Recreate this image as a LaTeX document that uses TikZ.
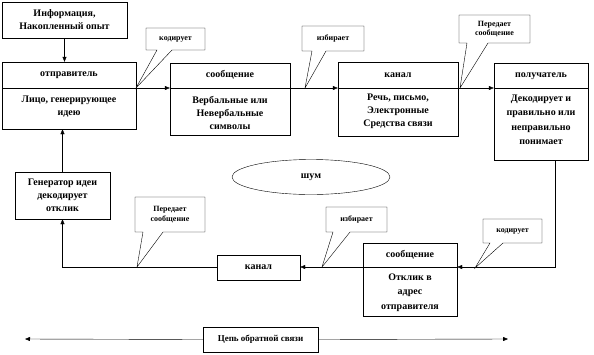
\documentclass[tikz,border=0pt]{standalone}
\usepackage{fontspec}
\setmainfont{Liberation Serif}
\usetikzlibrary{arrows.meta,shapes.geometric}

\begin{document}
\begin{tikzpicture}[x=1pt,y=-1pt,
    box/.style 2 args={draw,minimum width=#1,minimum height=#2,inner sep=0pt,align=center,
      font=\fontsize{10}{13}\selectfont\bfseries},
    txt/.style={align=center,inner sep=0pt,font=\fontsize{10}{13}\selectfont\bfseries},
    note/.style={align=center,inner sep=0pt,font=\fontsize{8}{9.5}\selectfont\bfseries},
    arr/.style={-{Triangle[length=5pt,width=4pt]}}]
  \useasboundingbox (0,0) rectangle (594,354);
  \coordinate (flow) at (0,88);
  \coordinate (lflow) at (0,267);
  % upper chain
  \node[box={125}{36}] (info) at (64.5,20) {Информация,\\Накопленный опыт};
  \node[box={134}{67}] (snd) at (69,95.5) {};
  \node[box={120}{72}] (msg) at (230,99) {};
  \node[box={120}{74}] (chan) at (398,99) {};
  \node[box={94}{97}] (rcv) at (541,111.5) {};
  \node[txt] at (69,75) {отправитель};
  \node[txt] at (69,107) {Лицо, генерирующее\\идею};
  \node[txt] at (230,75) {сообщение};
  \node[txt] at (230,113) {Вербальные или\\Невербальные\\символы};
  \node[txt] at (398,75) {канал};
  \node[txt] at (398,111.5) {Речь, письмо,\\Электронные\\Средства связи};
  \node[txt] at (541,76) {получатель};
  \node[txt,font=\fontsize{10}{14.5}\selectfont\bfseries] at (541,120) {Декодирует и\\правильно или\\неправильно\\понимает};
  \foreach \b in {snd,msg,chan,rcv}
    \draw (\b.west |- flow) -- (\b.east |- flow);
  \draw[arr] (info.south) -- (info.south |- snd.north);
  \foreach \a/\b in {snd/msg,msg/chan,chan/rcv}
    \draw[arr] (\a.east |- flow) -- (\b.west |- flow);
  % noise
  \node[draw,ellipse,minimum width=158pt,minimum height=35pt,inner sep=0pt,
    font=\fontsize{10}{13}\selectfont\bfseries] (noise) at (311,177) {шум};
  % feedback chain
  \node[box={95}{47}] (gen) at (62.5,195.5) {Генератор идеи\\декодирует\\отклик};
  \node[box={83}{25}] (lchan) at (258.5,267.5) {канал};
  \node[box={94}{73}] (lmsg) at (410,279.5) {};
  \node[txt] at (410,255) {сообщение};
  \node[txt,font=\fontsize{10}{14.5}\selectfont\bfseries] at (410,292.5) {Отклик в\\адрес\\отправителя};
  \draw (lmsg.west |- lflow) -- (lmsg.east |- lflow);
  \coordinate (rdrop) at (555,160);
  \draw[arr] (rdrop) |- (lmsg.east |- lflow);
  \draw[arr] (lmsg.west |- lflow) -- (lchan.east |- lflow);
  \draw[arr] (lchan.west) -| (gen.south);
  \draw[arr] (gen.north) -- (gen.north |- snd.south);
  % callouts
  \foreach \nm/\xa/\ya/\xb/\yb/\ba/\bb/\tx/\ty/\txt in {
      ca/146/28/205/50/157/172/136/88/кодирует,
      cb/302/26/364/51/312/326/305/88/избирает,
      cc/459/15/530/43/467/488/460/88/Передает\\сообщение,
      cd/135/197/205/232/143/163/137/267/Передает\\сообщение,
      ce/326/207/387/232/333/350/322/267/избирает,
      cf/483/219/542/243/490/503/475/268/кодирует}{
    \draw[fill=white] (\xa,\ya) -| (\xb,\yb) -- (\bb,\yb) -- (\tx,\ty) -- (\ba,\yb) -- (\xa,\yb) -- cycle;
    \node[note] (\nm) at ({(\xa+\xb)/2},{(\ya+\yb)/2}) {\txt};
  }
  % feedback loop
  \node[box={115}{25},font=\fontsize{9}{11}\selectfont\bfseries] (fb) at (260.5,339.5) {Цепь обратной связи};
  \coordinate (fl) at (25,339);
  \coordinate (fr) at (508,339);
  \draw[arr] (fb.west) -- (fl);
  \draw[arr] (fb.east) -- (fr);
\end{tikzpicture}
\end{document}
